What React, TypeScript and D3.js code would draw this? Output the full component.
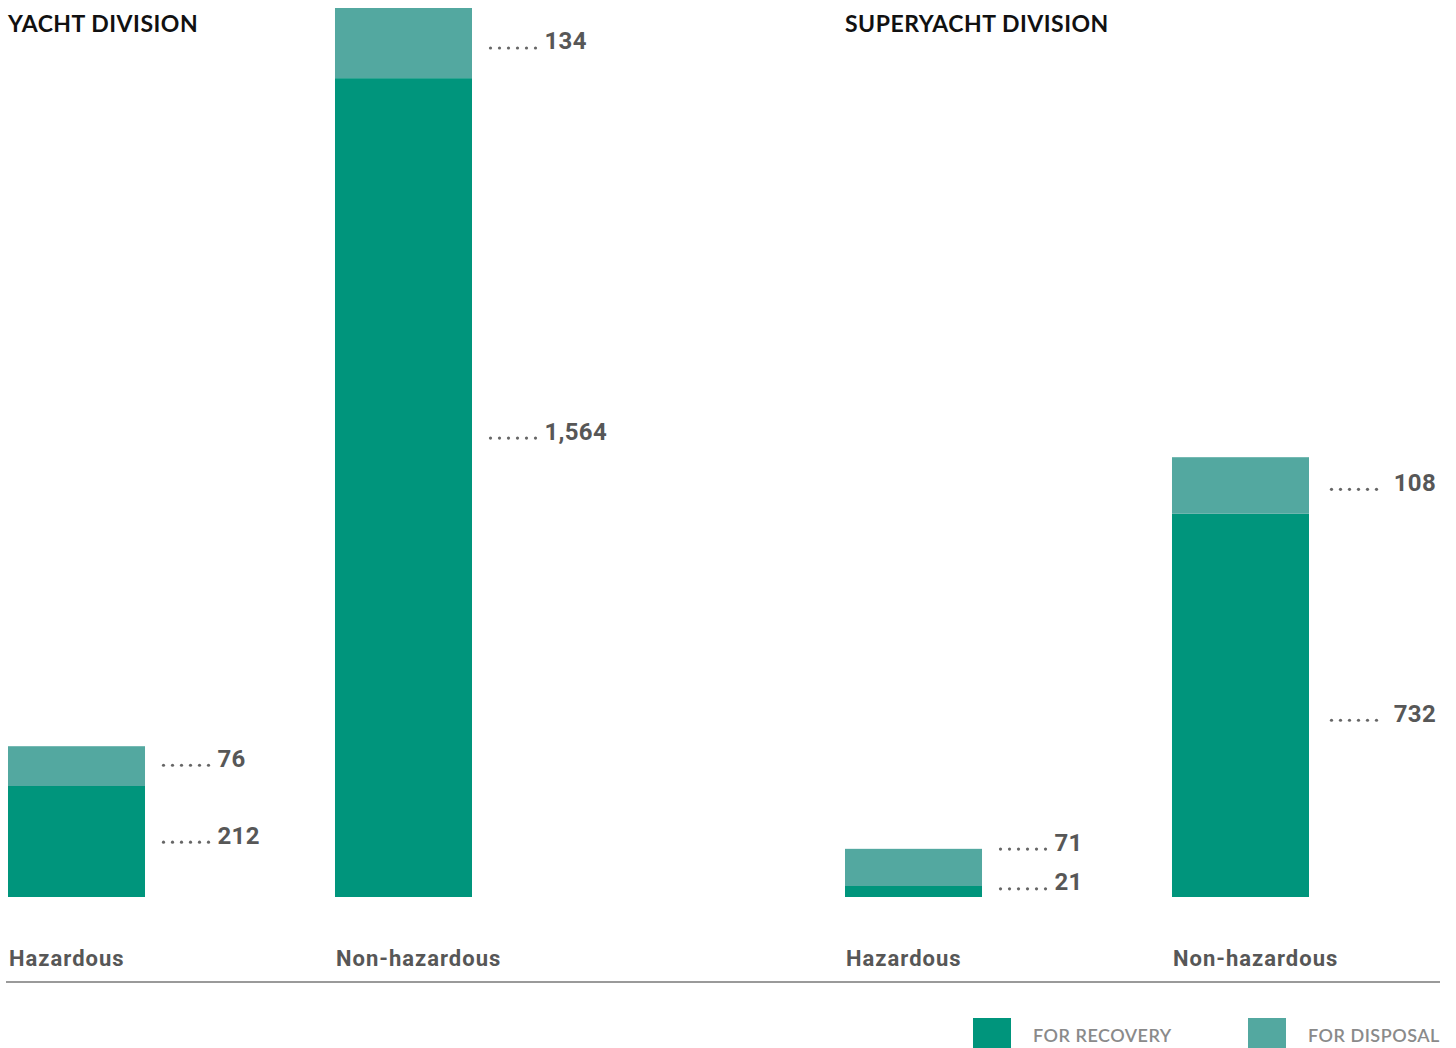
import React from "react";
import * as d3 from "d3";

const divisions = ["YACHT DIVISION", "SUPERYACHT DIVISION"];
const wasteTypes = ["Hazardous", "Non-hazardous"];
const recovery = [[212, 1564], [21, 732]];
const disposal = [[76, 134], [71, 108]];
// value (in tonnes scale units) at which each label is placed
const recoveryLabelAt = [[118, 890], [29, 351]];
const disposalLabelAt = [[265, 1635], [105, 792]];
const legendLabels = ["FOR RECOVERY", "FOR DISPOSAL"];

const W = 1456;
const H = 1048;
const C_REC = "#00957c";
const C_DIS = "#53a8a0";
const TXT = "#575757";

export default function App() {
  const maxTotal = d3.max(recovery.flatMap((r, i) => r.map((v, j) => v + disposal[i][j]))) as number;
  const y = d3.scaleLinear().domain([0, maxTotal]).range([897, 8]);
  const outer = d3.scaleBand().domain(divisions).range([8, 8 + 837 * 2]).paddingInner(0).paddingOuter(0);
  const inner = d3.scaleBand().domain(wasteTypes).range([0, 464]).paddingInner(0.581).paddingOuter(0);
  const bw = inner.bandwidth();
  const fmt = d3.format(",");
  const numFont = "Roboto, 'DejaVu Sans', sans-serif";
  const titleFont = "Lato, 'Open Sans', sans-serif";

  const label = (key: string, xBar: number, val: number, at: number, rightAlign: boolean) => {
    const cy = y(at);
    const dotsX = xBar + bw + 18.5;
    const dots = d3.range(6).map((i) => dotsX + i * 9);
    return (
      <g key={key}>
        {dots.map((dx, i) => (
          <circle key={i} cx={rightAlign ? dx + 4 : dx} cy={cy + 7} r={1.6} fill="#666" />
        ))}
        <text
          x={rightAlign ? W - 20 : dotsX + 54}
          y={cy + 8.5}
          textAnchor={rightAlign ? "end" : "start"}
          fontFamily={numFont}
          fontWeight={700}
          fontSize={24}
          fill={TXT}
          letterSpacing={0.3}
        >
          {fmt(val)}
        </text>
      </g>
    );
  };

  return (
    <svg width={W} height={H} style={{ position: "absolute", left: 0, top: 0 }}>
      <rect width={W} height={H} fill="#fff" />
      {divisions.map((d, i) => {
        const x0 = outer(d) as number;
        return (
          <g key={d}>
            <text x={x0} y={32} fontFamily={titleFont} fontWeight={700} fontSize={23} fill="#111" letterSpacing={0.5}>
              {d}
            </text>
            {wasteTypes.map((t, j) => {
              const x = x0 + (inner(t) as number);
              const r = recovery[i][j];
              const s = disposal[i][j];
              const last = i === divisions.length - 1 && j === wasteTypes.length - 1;
              return (
                <g key={t}>
                  <rect x={x} y={y(r)} width={bw} height={y(0) - y(r)} fill={C_REC} />
                  <rect x={x} y={y(r + s)} width={bw} height={y(r) - y(r + s)} fill={C_DIS} />
                  {label("d", x, s, disposalLabelAt[i][j], last)}
                  {label("r", x, r, recoveryLabelAt[i][j], last)}
                  <text x={x + 1} y={966} fontFamily={numFont} fontWeight={700} fontSize={22} fill={TXT} letterSpacing={1}>
                    {t}
                  </text>
                </g>
              );
            })}
          </g>
        );
      })}
      <line x1={6} x2={1440} y1={982} y2={982} stroke="#9a9a9a" strokeWidth={2} />
      {legendLabels.map((l, i) => (
        <g key={l} transform={`translate(${973 + i * 275},1018)`}>
          <rect width={38} height={38} fill={i === 0 ? C_REC : C_DIS} />
          <text x={60} y={24} fontFamily={titleFont} fontWeight={600} fontSize={18} fill="#8a8a8a" letterSpacing={0.5}>
            {l}
          </text>
        </g>
      ))}
    </svg>
  );
}
